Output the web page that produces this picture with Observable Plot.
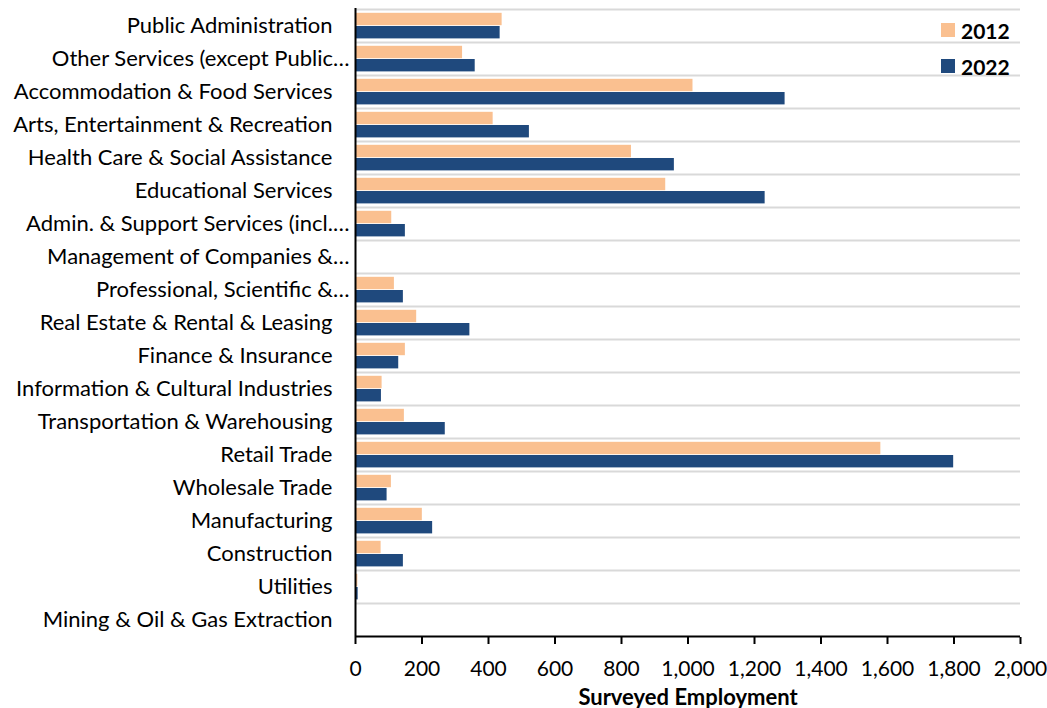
<!DOCTYPE html>
<html>
<head>
<meta charset="utf-8">
<script src="https://cdn.jsdelivr.net/npm/d3@7"></script>
<script src="https://cdn.jsdelivr.net/npm/@observablehq/plot@0.6"></script>
<style>
  html, body { margin: 0; padding: 0; background: #fff; }
  #wrap { position: relative; width: 1047px; height: 708px; font-family: Lato, "Open Sans", sans-serif; }
  .legend { position: absolute; left: 941px; font-weight: bold; font-size: 21px; color: #000; display: flex; align-items: center; }
  .legend span.sw { display: inline-block; width: 14px; height: 14px; margin-right: 6px; }
</style>
</head>
<body>
<div id="wrap"></div>
<script>
// Categories, top to bottom
const categories = [
  "Public Administration",
  "Other Services (except Public…",
  "Accommodation & Food Services",
  "Arts, Entertainment & Recreation",
  "Health Care & Social Assistance",
  "Educational Services",
  "Admin. & Support Services (incl.…",
  "Management of Companies &…",
  "Professional, Scientific &…",
  "Real Estate & Rental & Leasing",
  "Finance & Insurance",
  "Information & Cultural Industries",
  "Transportation & Warehousing",
  "Retail Trade",
  "Wholesale Trade",
  "Manufacturing",
  "Construction",
  "Utilities",
  "Mining & Oil & Gas Extraction"
];
const truncated = [
  "Other Services (except Public…",
  "Admin. & Support Services (incl.…",
  "Management of Companies &…",
  "Professional, Scientific &…"
];
const values2012 = [441, 322, 1015, 414, 830, 933, 109, 0, 117, 184, 150, 80, 147, 1580, 108, 201, 77, 7, 0];
const values2022 = [435, 360, 1292, 523, 959, 1232, 150, 0, 144, 344, 130, 78, 270, 1799, 95, 232, 144, 8, 0];
const years = ["2012", "2022"];
const yearColors = ["#FAC090", "#1F497D"];
const xTicks = [0, 200, 400, 600, 800, 1000, 1200, 1400, 1600, 1800, 2000];
const xLabel = "Surveyed Employment";

const W = 1047, H = 708, mt = 8, mb = 71, ml = 355, mr = 27;
const bw = (H - mt - mb) / categories.length;

const rows2012 = categories.map((c, i) => ({category: c, year: years[0], value: values2012[i]}));
const rows2022 = categories.map((c, i) => ({category: c, year: years[1], value: values2022[i]}));
const fullLabels = categories.filter(c => !truncated.includes(c));
const last = categories[categories.length - 1];

const chart = Plot.plot({
  width: W, height: H,
  marginTop: mt, marginBottom: mb, marginLeft: ml, marginRight: mr,
  style: {fontFamily: "Lato, 'Open Sans', sans-serif", color: "#000", background: "#fff"},
  x: {domain: [0, 2000], label: null},
  y: {domain: categories, padding: 0, label: null, axis: null},
  color: {domain: years, range: yearColors},
  marks: [
    Plot.ruleY(categories, {y: d => d, dy: -bw / 2, stroke: "#D9D9D9", strokeWidth: 2}),
    Plot.barX(rows2012, {x: "value", y: "category", fill: "year", insetTop: 3.8, insetBottom: 16.8}),
    Plot.barX(rows2022, {x: "value", y: "category", fill: "year", insetTop: 17, insetBottom: 3.6}),
    Plot.ruleX([0], {stroke: "#000", strokeWidth: 2}),
    Plot.ruleY([last], {y: d => d, dy: bw / 2, stroke: "#000", strokeWidth: 2}),
    Plot.ruleX(xTicks, {x: d => d, y: () => last, insetTop: bw - 7, stroke: "#000", strokeWidth: 2}),
    Plot.axisX(xTicks, {tickSize: 7, tickPadding: 17, tickFormat: d3.format(","), fontSize: 21, stroke: "#000", strokeWidth: 2, label: null}),
    Plot.axisY(fullLabels, {tickSize: 0, tickPadding: 23, fontSize: 22, label: null}),
    Plot.axisY(truncated, {tickSize: 0, tickPadding: 6, fontSize: 22, label: null}),
    Plot.text([xLabel], {frameAnchor: "bottom", dy: 67, text: d => d, fontWeight: "bold", fontSize: 22})
  ]
});

const wrap = document.getElementById("wrap");
wrap.appendChild(chart);
years.forEach((yr, i) => {
  const div = document.createElement("div");
  div.className = "legend";
  div.style.top = (i === 0 ? 18 : 54) + "px";
  div.style.height = "24px";
  const sw = document.createElement("span");
  sw.className = "sw";
  sw.style.background = yearColors[i];
  div.appendChild(sw);
  div.appendChild(document.createTextNode(yr));
  wrap.appendChild(div);
});
</script>
</body>
</html>
